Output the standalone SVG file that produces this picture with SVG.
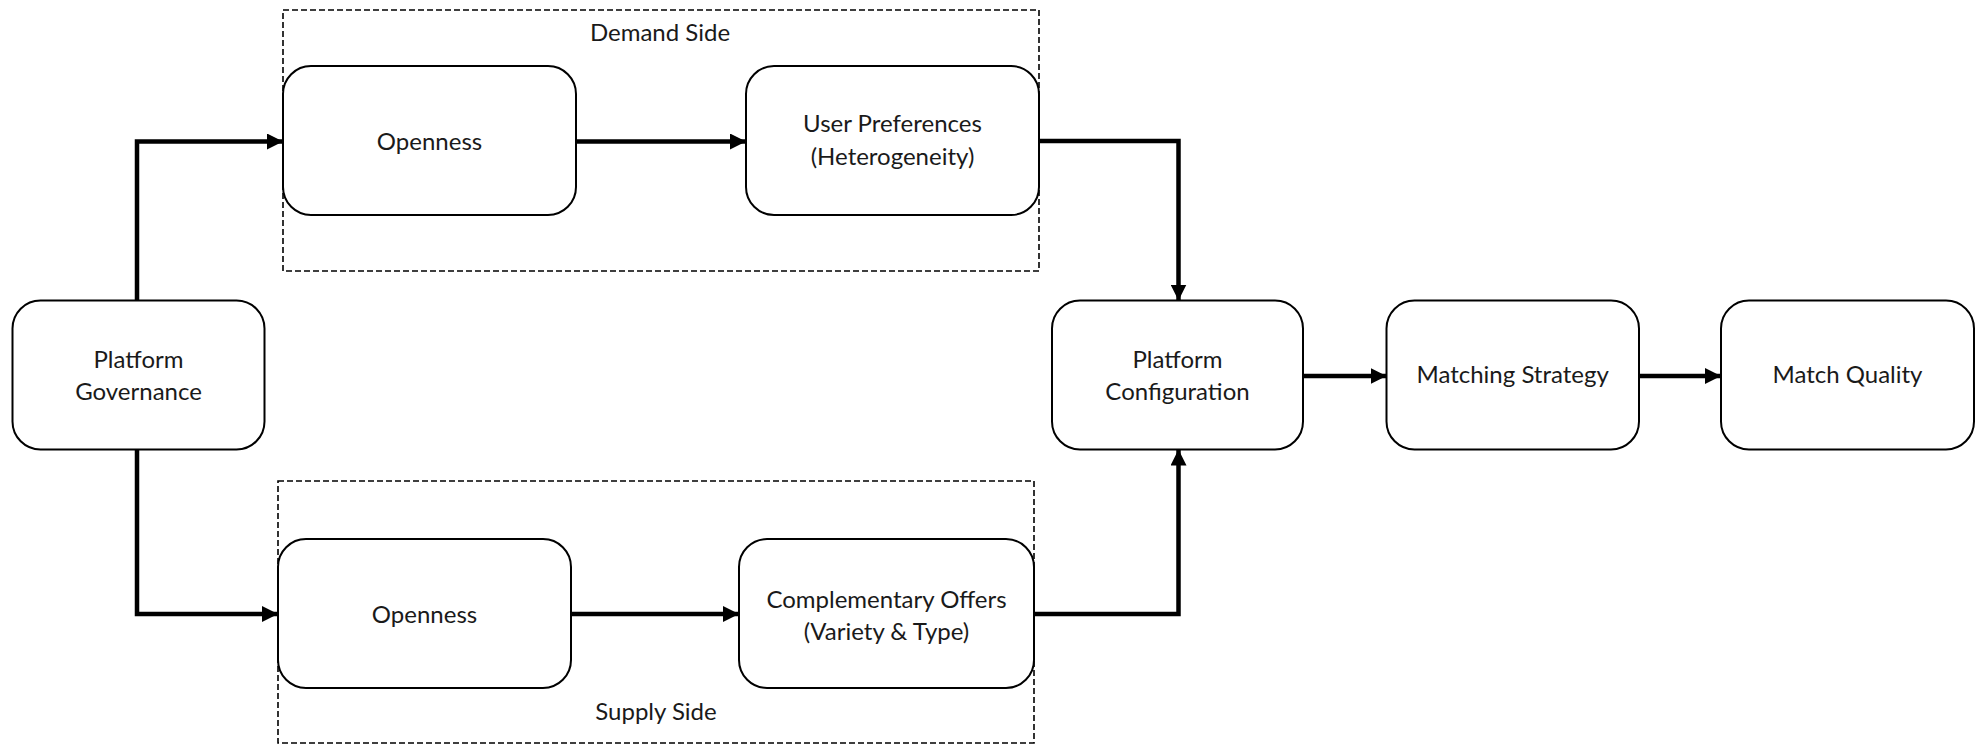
<svg xmlns="http://www.w3.org/2000/svg" width="1980" height="745" viewBox="0 0 1980 745">
<style>
.box{fill:#fff;stroke:#000;stroke-width:2}
.grp{fill:none;stroke:#000;stroke-width:1.6;stroke-dasharray:6 3}
.edge{fill:none;stroke:#000;stroke-width:4.5;stroke-linejoin:miter}
text{font-family:Lato,"Liberation Sans",sans-serif;font-size:24px;fill:#1a1a1a;text-anchor:middle}
</style>
<defs>
<marker id="arr" markerUnits="userSpaceOnUse" markerWidth="16" markerHeight="16" refX="16" refY="8" orient="auto">
<path d="M0,0 L16,8 L0,16 z" fill="#000"/>
</marker>
</defs>
<g id="demand-side">
<rect class="grp" x="283" y="10" width="756" height="261"/>
<text x="660" y="41">Demand Side</text>
</g>
<g id="supply-side">
<rect class="grp" x="278" y="481" width="756" height="262"/>
<text x="656" y="720">Supply Side</text>
</g>
<g id="connectors">
<path class="edge" d="M137,300 V141.5 H283" marker-end="url(#arr)"/>
<path class="edge" d="M137,450 V614 H278" marker-end="url(#arr)"/>
<path class="edge" d="M576,141.5 H746" marker-end="url(#arr)"/>
<path class="edge" d="M571,614 H739" marker-end="url(#arr)"/>
<path class="edge" d="M1039,141 H1178.5 V300.5" marker-end="url(#arr)"/>
<path class="edge" d="M1034,614 H1178.5 V449.5" marker-end="url(#arr)"/>
<path class="edge" d="M1303,376 H1386.5" marker-end="url(#arr)"/>
<path class="edge" d="M1639,376 H1721" marker-end="url(#arr)"/>
</g>
<g id="platform-governance">
<rect class="box" x="12.5" y="300.5" width="252" height="149" rx="28"/>
<text x="138.5" y="368">Platform</text>
<text x="138.5" y="400">Governance</text>
</g>
<g id="openness-demand">
<rect class="box" x="283" y="66" width="293" height="149" rx="28"/>
<text x="429.5" y="150">Openness</text>
</g>
<g id="user-preferences">
<rect class="box" x="746" y="66" width="293" height="149" rx="28"/>
<text x="892.5" y="132">User Preferences</text>
<text x="892.5" y="165">(Heterogeneity)</text>
</g>
<g id="openness-supply">
<rect class="box" x="278" y="539" width="293" height="149" rx="28"/>
<text x="424.5" y="623">Openness</text>
</g>
<g id="complementary-offers">
<rect class="box" x="739" y="539" width="295" height="149" rx="28"/>
<text x="886.5" y="608">Complementary Offers</text>
<text x="886.5" y="640">(Variety &amp; Type)</text>
</g>
<g id="platform-configuration">
<rect class="box" x="1052" y="300.5" width="251" height="149" rx="28"/>
<text x="1177.5" y="368">Platform</text>
<text x="1177.5" y="400">Configuration</text>
</g>
<g id="matching-strategy">
<rect class="box" x="1386.5" y="300.5" width="252.5" height="149" rx="28"/>
<text x="1512.7" y="383">Matching Strategy</text>
</g>
<g id="match-quality">
<rect class="box" x="1721" y="300.5" width="253" height="149" rx="28"/>
<text x="1847.5" y="383">Match Quality</text>
</g>
</svg>
